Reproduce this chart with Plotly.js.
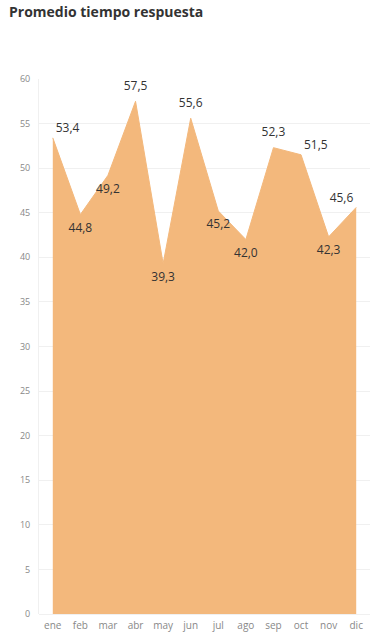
<!DOCTYPE html>
<html>
<head>
<meta charset="utf-8">
<script src="https://cdn.plot.ly/plotly-3.0.1.min.js"></script>
<style>
html,body{margin:0;padding:0;background:#fff;}
#chart{width:382px;height:643px;}
</style>
</head>
<body>
<div id="chart"></div>
<script>
const months = ['ene','feb','mar','abr','may','jun','jul','ago','sep','oct','nov','dic'];
const avgTime = [53.4, 44.8, 49.2, 57.5, 39.3, 55.6, 45.2, 42.0, 52.3, 51.5, 42.3, 45.6];
const valueLabels = ['53,4','44,8','49,2','57,5','39,3','55,6','45,2','42,0','52,3','51,5','42,3','45,6'];
const labelPositions = ['top right','bottom center','bottom center','top center','bottom center','top center','bottom center','bottom center','top center','top right','bottom center','top left'];
const yTicks = [0,5,10,15,20,25,30,35,40,45,50,55,60];

const area = {
  x: months, y: avgTime, type: 'scatter', mode: 'lines',
  fill: 'tozeroy', fillcolor: '#F3B87C',
  line: {color: '#F3B87C', width: 1},
  hoverinfo: 'skip', showlegend: false
};
const labels = {
  x: months, y: avgTime, type: 'scatter', mode: 'markers+text',
  marker: {size: labelPositions.map(p => p.indexOf('center') >= 0 ? 12 : 3), color: 'rgba(0,0,0,0)', opacity: 0, line: {width: 0, color: 'rgba(0,0,0,0)'}},
  text: valueLabels, textposition: labelPositions,
  textfont: {family: 'Open Sans, sans-serif', size: 12, color: '#333'},
  hoverinfo: 'skip', showlegend: false, cliponaxis: false
};

const layout = {
  width: 382, height: 643,
  margin: {l: 39, r: 12, t: 79, b: 29},
  paper_bgcolor: '#fff', plot_bgcolor: '#fff',
  title: {text: '<b>Promedio tiempo respuesta</b>', x: 0, xref: 'container', xanchor: 'left', y: 1, yref: 'container', yanchor: 'top',
    pad: {l: 9, t: 7}, font: {family: 'Open Sans, sans-serif', size: 14, color: '#333'}},
  xaxis: {type: 'category', range: [-0.5, 11.5], showgrid: false, zeroline: false,
    showline: false, ticks: '', ticklabelstandoff: 4, tickfont: {family: 'Open Sans, sans-serif', size: 10, color: '#888'}, fixedrange: true},
  yaxis: {range: [0, 60], tickvals: yTicks, showgrid: true, gridcolor: '#f0f0f0', gridwidth: 1,
    zeroline: true, zerolinecolor: '#f0f0f0', showline: true, linecolor: '#f0f0f0', ticks: '',
    tickfont: {family: 'Open Sans, sans-serif', size: 9, color: '#888'}, ticklabelstandoff: 6, fixedrange: true}
};

Plotly.newPlot('chart', [area, labels], layout, {displayModeBar: false, staticPlot: true});
</script>
</body>
</html>
